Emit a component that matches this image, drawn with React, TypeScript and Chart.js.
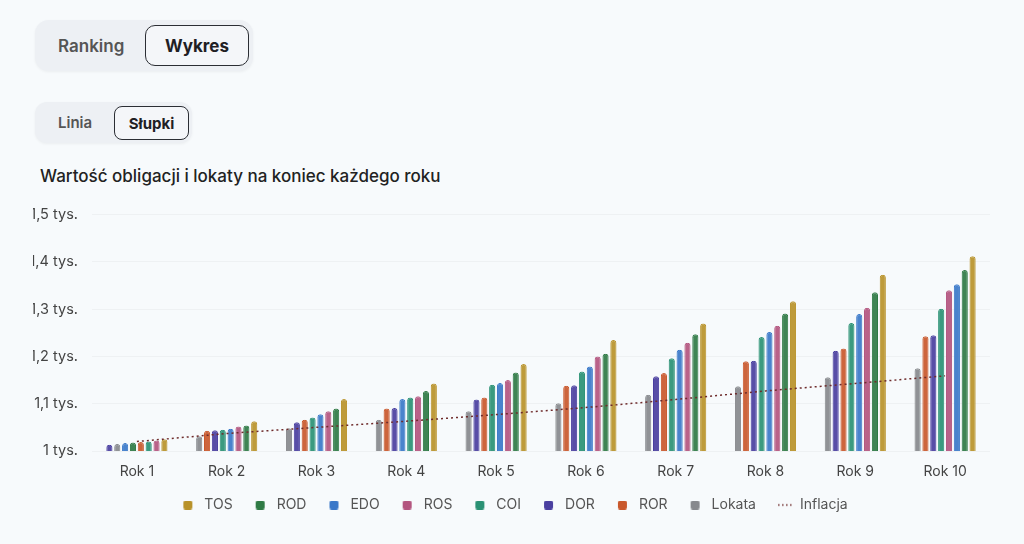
import { useEffect, useRef } from 'react'
import { Chart, registerables } from 'chart.js'

Chart.register(...registerables)

const YEARS = ['Rok 1', 'Rok 2', 'Rok 3', 'Rok 4', 'Rok 5', 'Rok 6', 'Rok 7', 'Rok 8', 'Rok 9', 'Rok 10']

// wartość 1000 zł na koniec każdego roku
const TOS = [1025, 1063, 1110, 1143, 1184, 1235, 1270, 1317, 1373, 1412]
const ROD = [1018, 1054, 1090, 1127, 1166, 1206, 1247, 1291, 1336, 1383]
const EDO = [1017, 1047, 1078, 1110, 1144, 1179, 1214, 1252, 1290, 1353]
const ROS = [1022, 1052, 1084, 1116, 1150, 1200, 1229, 1265, 1303, 1340]
const COI = [1020, 1045, 1071, 1113, 1140, 1168, 1196, 1241, 1271, 1301]
const DOR = [1013, 1044, 1061, 1091, 1109, 1139, 1158, 1191, 1212, 1245]
const ROR = [1019, 1043, 1066, 1090, 1113, 1138, 1165, 1190, 1217, 1243]
const LOKATA = [1015, 1031, 1048, 1066, 1084, 1101, 1119, 1137, 1156, 1175]
const INFLACJA = [1020, 1037, 1050, 1063, 1077, 1092, 1109, 1127, 1143, 1159]

const Y_MIN = 1000
const Y_MAX = 1500
const Y_STEP = 100

const SERIES = [
  { name: 'TOS', data: TOS, color: '#B8922A' },
  { name: 'ROD', data: ROD, color: '#2F7A45' },
  { name: 'EDO', data: EDO, color: '#3A78C9' },
  { name: 'ROS', data: ROS, color: '#B3557F' },
  { name: 'COI', data: COI, color: '#2A9174' },
  { name: 'DOR', data: DOR, color: '#4A3FA0' },
  { name: 'ROR', data: ROR, color: '#C9582C' },
  { name: 'Lokata', data: LOKATA, color: '#87898D' },
]
const INFLATION_COLOR = '#6E2B2B'

function hexAlpha(hex: string, a: number) {
  const n = parseInt(hex.slice(1), 16)
  return `rgba(${(n >> 16) & 255},${(n >> 8) & 255},${n & 255},${a})`
}

// ikonki legendy: kwadracik albo kropkowana linia, wyrównane do lewej w polu 22px
function legendIcon(color: string, dotted: boolean) {
  const c = document.createElement('canvas')
  c.width = 22
  c.height = 9
  const ctx = c.getContext('2d')!
  ctx.fillStyle = color
  if (dotted) {
    for (let x = 7; x < 22; x += 4) ctx.fillRect(x, 3.8, 1.6, 1.4)
  } else {
    ctx.beginPath()
    ctx.roundRect(8, 0, 9, 9, 2)
    ctx.fill()
  }
  return c
}

function BondChart() {
  const canvasRef = useRef<HTMLCanvasElement>(null)
  const chartRef = useRef<Chart | null>(null)

  useEffect(() => {
    if (!canvasRef.current) return
    if (chartRef.current) chartRef.current.destroy()

    // w każdym roku słupki ułożone rosnąco
    const sorted = YEARS.map((_, i) =>
      SERIES.map(s => ({ v: s.data[i], color: s.color })).sort((a, b) => a.v - b.v))

    const barSets = SERIES.map((_, r) => ({
      type: 'bar' as const,
      label: 'rank' + r,
      data: sorted.map(g => g[r].v),
      backgroundColor: sorted.map(g => hexAlpha(g[r].color, 0.92)),
      borderColor: sorted.map(g => g[r].color),
      borderWidth: 1,
      borderRadius: 3,
      categoryPercentage: 0.7,
      barPercentage: 0.78,
      order: 1,
    }))

    const legendItems = [
      ...SERIES.map(s => ({ text: s.name, icon: legendIcon(s.color, false) })),
      { text: 'Inflacja', icon: legendIcon(INFLATION_COLOR, true) },
    ]

    chartRef.current = new Chart(canvasRef.current, {
      type: 'bar',
      data: {
        labels: YEARS,
        datasets: [
          ...barSets,
          {
            type: 'line' as const,
            label: 'Inflacja',
            data: INFLACJA,
            borderColor: INFLATION_COLOR,
            borderWidth: 1.5,
            borderDash: [2, 3],
            pointRadius: 0,
            fill: false,
            tension: 0,
            order: 0,
          },
        ] as any,
      },
      options: {
        animation: false,
        responsive: true,
        maintainAspectRatio: false,
        layout: { padding: { top: 0, right: 10, left: 0, bottom: 0 } },
        scales: {
          x: {
            grid: { display: false, drawTicks: false },
            border: { display: false },
            ticks: { color: '#444', font: { size: 14 }, padding: 12 },
            afterFit: (s: any) => { s.height = 32 },
          },
          y: {
            min: Y_MIN, max: Y_MAX,
            grid: { color: 'rgba(0,0,0,0.035)', drawTicks: false },
            border: { display: false },
            ticks: {
              stepSize: Y_STEP,
              color: '#444',
              font: { size: 14.5 },
              padding: 14,
              callback: (v: any) => String(Math.round(Number(v) / 100) / 10).replace('.', ',') + ' tys.',
            },
            afterFit: (s: any) => { s.width = 59 },
          },
        },
        plugins: {
          tooltip: { enabled: false },
          legend: {
            position: 'bottom',
            onClick: () => {},
            labels: {
              usePointStyle: true,
              pointStyleWidth: 22,
              boxHeight: 9,
              padding: 15,
              color: '#555',
              font: { size: 14 },
              generateLabels: () => legendItems.map(it => ({
                text: it.text,
                fillStyle: 'transparent',
                strokeStyle: 'transparent',
                lineWidth: 0,
                pointStyle: it.icon as any,
                fontColor: '#555',
                hidden: false,
              })),
            },
          },
        },
      },
    })

    return () => { chartRef.current?.destroy() }
  }, [])

  return (
    <div style={{ position: 'absolute', left: 33, top: 192, width: 967, height: 330 }}>
      <canvas ref={canvasRef} />
    </div>
  )
}

export default function App() {
  Chart.defaults.font.family = 'Inter, "Noto Sans", sans-serif'

  const box = { position: 'absolute' as const, display: 'flex', alignItems: 'center', boxSizing: 'border-box' as const }

  return (
    <div style={{ position: 'fixed', inset: 0, background: '#F7FAFC', fontFamily: 'Inter, "Noto Sans", sans-serif', overflow: 'hidden' }}>
      <div style={{ ...box, left: 35, top: 20, width: 218, height: 51, borderRadius: 14, background: '#EDF0F4', boxShadow: '0 1px 3px rgba(0,0,0,0.05)' }} />
      <div style={{ ...box, left: 58, top: 20, height: 51, fontSize: 17, fontWeight: 600, color: '#555' }}>Ranking</div>
      <div style={{ ...box, left: 145, top: 25, width: 104, height: 41, justifyContent: 'center', borderRadius: 10, border: '1.5px solid #2B2E34', background: '#F4F6F9', fontSize: 17, fontWeight: 700, color: '#1F2024' }}>Wykres</div>

      <div style={{ ...box, left: 35, top: 102, width: 157, height: 41, borderRadius: 12, background: '#EDF0F4', boxShadow: '0 1px 3px rgba(0,0,0,0.05)' }} />
      <div style={{ ...box, left: 58, top: 102, height: 41, fontSize: 15, fontWeight: 600, color: '#555' }}>Linia</div>
      <div style={{ ...box, left: 114, top: 106, width: 75, height: 34, justifyContent: 'center', borderRadius: 8, border: '1.5px solid #2B2E34', background: '#F4F6F9', fontSize: 15, fontWeight: 700, color: '#1F2024' }}>Słupki</div>

      <div style={{ ...box, left: 40, top: 164, height: 24, fontSize: 17, fontWeight: 500, color: '#222' }}>
        Wartość obligacji i lokaty na koniec każdego roku
      </div>

      <BondChart />
    </div>
  )
}
